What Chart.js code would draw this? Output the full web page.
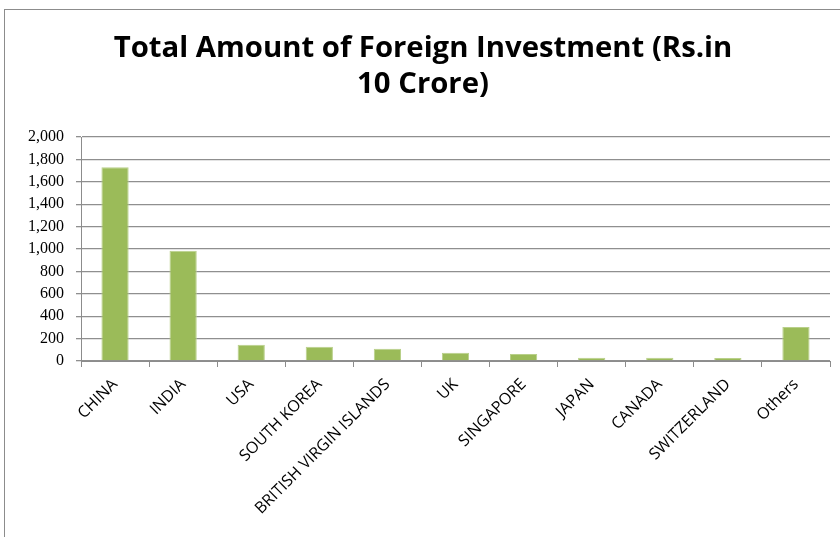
<!DOCTYPE html>
<html>
<head>
<meta charset="utf-8">
<script src="https://cdn.jsdelivr.net/npm/chart.js@4/dist/chart.umd.min.js"></script>
<style>
  html, body { margin: 0; padding: 0; background: #fff; overflow: hidden; }
  #frame {
    position: absolute; left: 4px; top: 9px;
    width: 850px; height: 540px;
    border: 1px solid #8c8c8c;
    box-sizing: border-box;
  }
  #wrap { position: absolute; left: 0; top: 0; width: 835px; height: 527px; }
</style>
</head>
<body>
<div id="frame"><div id="wrap"><canvas id="chart"></canvas></div></div>
<script>
const countries = ["CHINA", "INDIA", "USA", "SOUTH KOREA", "BRITISH VIRGIN ISLANDS", "UK",
  "SINGAPORE", "JAPAN", "CANADA", "SWITZERLAND", "Others"];
const investment = [1730, 985, 146, 128, 110, 74, 63, 30, 30, 27, 304];
const chartTitle = ["Total Amount of Foreign Investment (Rs.in", "10 Crore)"];

const ctx = document.getElementById("chart").getContext("2d");
const chart = new Chart(ctx, {
  type: "bar",
  data: {
    labels: countries,
    datasets: [
      {
        label: "Investment",
        data: investment,
        backgroundColor: "#9bbb59",
        borderColor: "#b9d08a",
        borderWidth: 1,
        categoryPercentage: 1,
        barPercentage: 0.4,
      },
    ],
  },
  options: {
    responsive: true,
    maintainAspectRatio: false,
    animation: false,
    layout: { padding: { left: 11, right: 10, top: 0, bottom: 11 } },
    plugins: {
      legend: { display: false },
      tooltip: { enabled: false },
      title: {
        display: true,
        text: chartTitle,
        color: "#000",
        font: { family: "Open Sans", size: 29.3, weight: "bold", lineHeight: 1.23 },
        padding: { top: 21, bottom: 34 },
      },
    },
    scales: {
      x: {
        grid: {
          offset: true,
          drawOnChartArea: false,
          drawTicks: true,
          tickLength: 6,
          color: "#8c8c8c",
        },
        border: { color: "#8c8c8c", width: 1 },
        ticks: {
          color: "#000",
          autoSkip: false,
          minRotation: 45,
          maxRotation: 45,
          padding: 8,
          font: { family: "Open Sans", size: 16 },
        },
      },
      y: {
        min: 0,
        max: 2000,
        ticks: {
          stepSize: 200,
          autoSkip: false,
          color: "#000",
          padding: 12,
          font: { family: "Liberation Serif", size: 16 },
          callback: (v) => v.toLocaleString("en-US"),
        },
        grid: { color: "#8f8f8f", tickLength: 5, lineWidth: 1.3 },
        border: { color: "#8c8c8c" },
      },
    },
  },
});
</script>
</body>
</html>
